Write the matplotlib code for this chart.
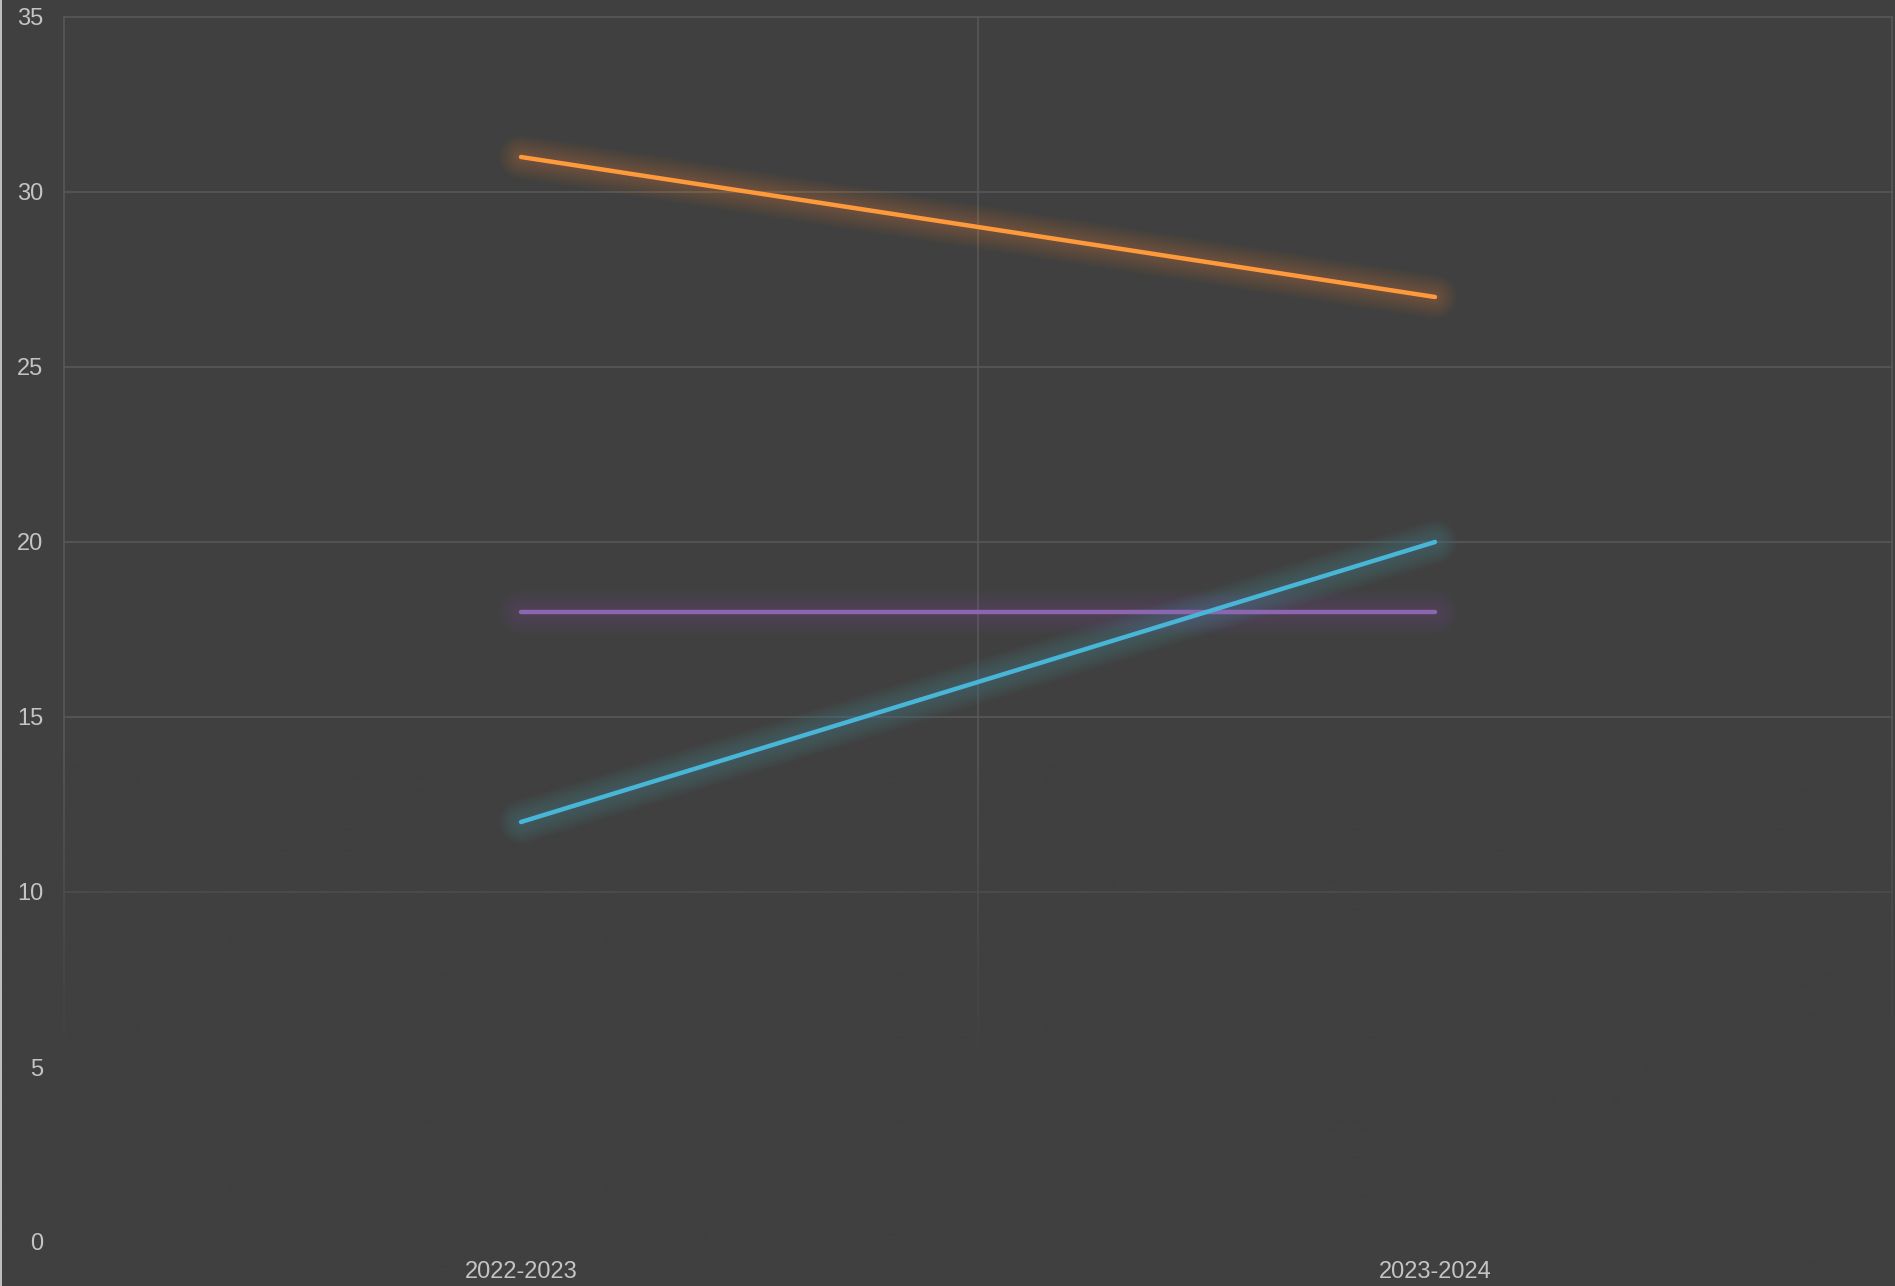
import matplotlib
matplotlib.use("Agg")
import matplotlib.pyplot as plt
from matplotlib.lines import Line2D
import numpy as np

# data
seasons = ["2022-2023", "2023-2024"]
orange_vals = [31, 27]
cyan_vals = [12, 20]
purple_vals = [18, 18]

series = [
    (orange_vals, "#ff9a3c"),
    (purple_vals, "#8c67b0"),
    (cyan_vals, "#48b6d6"),
]

bg = "#404040"
grid_col = "#585858"
text_col = "#c4c4c4"

plt.rcParams['font.family'] = ['Liberation Sans', 'DejaVu Sans']

fig = plt.figure(figsize=(18.95, 12.86), dpi=100, facecolor=bg)
ax = fig.add_axes([64 / 1895, 44 / 1286, 1828 / 1895, 1225 / 1286])
ax.set_facecolor(bg)

x = np.arange(len(seasons))

# grid: horizontal every 5, vertical at category edges
for yv in np.arange(0, 36, 5):
    ax.axhline(yv, color=grid_col, lw=1.2, zorder=0.5, clip_on=False)
for xv in np.arange(-0.5, len(seasons), 1.0):
    ax.axvline(xv, color=grid_col, lw=1.2, zorder=0.5, clip_on=False)

# fade out the lower part of the grid
fade = np.zeros((300, 1, 4))
r, g, b = [int(bg[i:i + 2], 16) / 255 for i in (1, 3, 5)]
fade[..., 0], fade[..., 1], fade[..., 2] = r, g, b
yy = np.linspace(35, -1, 300)
fade[:, 0, 3] = np.clip((14 - yy) / 9.0, 0, 0.97)
fade[yy < 2, 0, 3] = 1.0
ax.imshow(fade, extent=(-0.6, len(seasons) - 0.4, -1, 35), aspect='auto',
          zorder=1, interpolation='bilinear', origin='upper', clip_on=False)
ax.set_xlim(-0.5, len(seasons) - 0.5)
ax.set_ylim(0, 35)

# lines with a soft glow (many faint wide strokes)
glow_widths = np.arange(32, 4, -2)
for vals, col in series:
    for w in glow_widths:
        ax.plot(x, vals, color=col, lw=w, alpha=0.021, solid_capstyle='round', zorder=2)
    ax.plot(x, vals, color=col, lw=3.2, solid_capstyle='round', zorder=3)

ax.set_xticks(x)
ax.set_xticklabels(seasons)
ax.set_yticks(np.arange(0, 36, 5))
ax.tick_params(axis='both', length=0, colors=text_col, labelsize=17)
ax.tick_params(axis='y', pad=15)
ax.tick_params(axis='x', pad=14)
for s in ax.spines.values():
    s.set_visible(False)

# thin light edge on the left of the picture
fig.add_artist(Line2D([0.0005, 0.0005], [0, 1], color="#d8d8d8", lw=1.2))

fig.savefig("out.png", dpi=100, facecolor=bg)
